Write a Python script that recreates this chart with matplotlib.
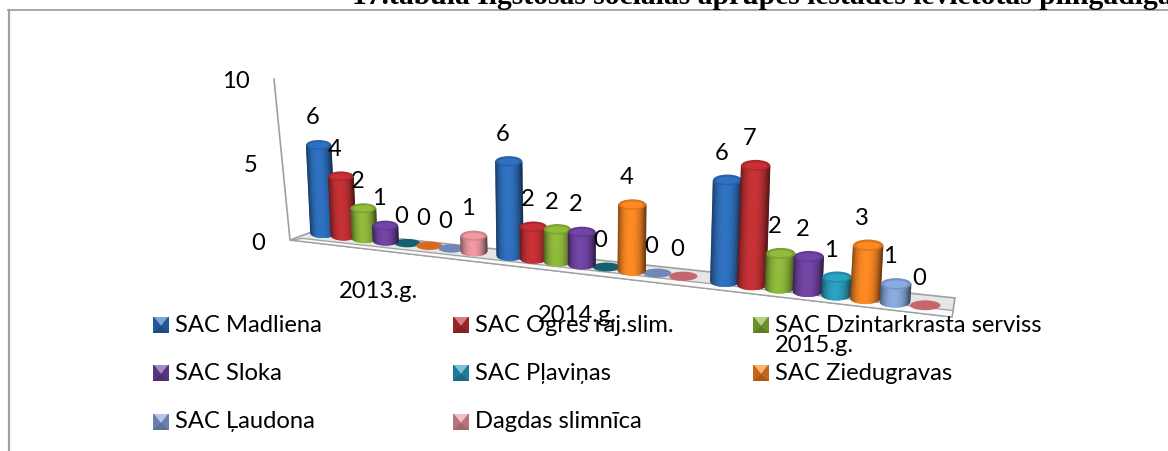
import numpy as np
import matplotlib
matplotlib.use("Agg")
import matplotlib.pyplot as plt
from matplotlib.collections import PolyCollection
from matplotlib.colors import to_rgb
from matplotlib.patches import Ellipse, Polygon, Rectangle

W, H = 1168, 451

years = ["2013.g.", "2014.g.", "2015.g."]
series_names = ["SAC Madliena", "SAC Ogres raj.slim.", "SAC Dzintarkrasta serviss", "SAC Sloka",
                "SAC Pļaviņas", "SAC Ziedugravas", "SAC Ļaudona", "Dagdas slimnīca"]
madliena = [6, 6, 6]
ogres = [4, 2, 7]
dzintarkrasta = [2, 2, 2]
sloka = [1, 2, 2]
plavinas = [0, 0, 1]
ziedugravas = [0, 4, 3]
laudona = [0, 0, 1]
dagdas = [1, 0, 0]
all_series = [madliena, ogres, dzintarkrasta, sloka, plavinas, ziedugravas, laudona, dagdas]
colors = ["#2a69b4", "#b92c30", "#86ae36", "#6a3f9b", "#2596b6", "#ee7f1e", "#7f9fd2", "#df8f96"]
flat_colors = ["#2a69b4", "#b92c30", "#86ae36", "#6a3f9b", "#14606f", "#d9691c", "#7088b8", "#c4666c"]
value_ticks = [0, 5, 10]
title = "17.tabula Ilgstošas sociālās aprūpes iestādēs ievietotās pilngadīgās personas"

# fake 3d projection, fitted to the picture
X0, Y0 = 323, 233
SLOPE = 0.12
GROUP_STEP = 8 + 0.56
PERSP = 0.0075
UNIT_X = 20.45
UNIT_Y = 14.7
BAR_W = 25
CAP_H = 9.5
LEAN = 0.00019


def project(t, v=0.0):
    scale = 1 / (1 - PERSP * t)
    base_x = X0 + UNIT_X * t * scale
    base_y = Y0 + SLOPE * (base_x - X0)
    h = v * UNIT_Y * scale
    return base_x - LEAN * (583 - base_x) * h, base_y - h, scale


def shade(color, u):
    rgb = np.array(to_rgb(color))
    k = 1.08 - 0.55 * np.abs(u) ** 2.6
    k = k - 0.12 * (u > 0) * u
    return tuple(np.clip(rgb * k, 0, 1))


def cylinder(ax, t, v, color, zorder):
    bx, by, s = project(t)
    tx, ty, _ = project(t, v)
    w, cap = BAR_W * s, CAP_H * s
    us = np.linspace(-1, 1, 41)
    polys, cols = [], []
    for u0, u1 in zip(us[:-1], us[1:]):
        b0 = by + np.sqrt(1 - u0 ** 2) * cap / 2
        b1 = by + np.sqrt(1 - u1 ** 2) * cap / 2
        polys.append([(bx + u0 * w / 2, b0), (bx + u1 * w / 2, b1), (tx + u1 * w / 2, ty), (tx + u0 * w / 2, ty)])
        cols.append(shade(color, (u0 + u1) / 2))
    ax.add_collection(PolyCollection(polys, facecolors=cols, edgecolors=cols, linewidths=0.4, zorder=zorder))
    rgb = np.array(to_rgb(color))
    ax.add_patch(Ellipse((tx, ty), w, cap, facecolor=rgb * 0.92, edgecolor="none", zorder=zorder))
    ax.add_patch(Ellipse((tx, ty + 0.3), w * 0.78, cap * 0.66, facecolor=np.clip(rgb * 1.08, 0, 1),
                         edgecolor="none", zorder=zorder))


def legend_marker(ax, x, y, color):
    rgb = np.array(to_rgb(color))
    size = 16
    ax.add_patch(Rectangle((x, y), size, size, facecolor=rgb * 0.82, edgecolor="none", zorder=6))
    ax.add_patch(Polygon([(x, y + size), (x + size, y + size), (x + size / 2, y + size * 0.55)],
                         facecolor=rgb * 0.72, edgecolor="none", zorder=7))
    ax.add_patch(Polygon([(x + 1, y), (x + size - 1, y), (x + size / 2, y + size * 0.55)],
                         facecolor=np.clip(rgb * 0.65 + 0.38, 0, 1), edgecolor="none", zorder=7))


plt.rcParams["font.family"] = ["Lato", "DejaVu Sans"]
fig = plt.figure(figsize=(W / 100, H / 100), dpi=100)
ax = fig.add_axes([0, 0, 1, 1])
ax.set_xlim(0, W)
ax.set_ylim(H, 0)
ax.axis("off")

# frame of the embedded chart
ax.plot([8, W], [9.5, 9.5], color="#9a9a9a", lw=1.2, zorder=1)
ax.plot([8.5, 8.5], [9.5, H], color="#a0a0a0", lw=1.6, zorder=1)
ax.text(352, 4, title, family="Liberation Serif", fontweight="bold", fontsize=21.3, ha="left", va="baseline",
        clip_on=True, zorder=2)

# floor and wall
ax.add_patch(Polygon([(290, 240), (317, 230), (955, 298), (952, 317)], facecolor="#e6e6e6",
                     edgecolor="#a0a0a0", lw=1.2, zorder=1))
ax.add_patch(Polygon([(290, 240), (303, 238.5), (953, 310.5), (952, 317)], facecolor="#fbfbfb",
                     edgecolor="#a0a0a0", lw=0.9, zorder=1))
ax.plot([290, 274], [240, 79], color="#a0a0a0", lw=1.2, zorder=1)

for v, lx, ly in zip(value_ticks, [258, 251, 236], [243, 165, 81]):
    ax.text(lx, ly, str(v), fontsize=17.1, ha="center", va="center", zorder=3)

# category labels sit under the floor
for year, lx, ly in zip(years, [379, 577, 814], [292, 315, 346]):
    ax.text(lx, ly, year, fontsize=17.1, ha="center", va="center", zorder=8)

labels = []
for g in range(len(years)):
    for s, vals in enumerate(all_series):
        t = g * GROUP_STEP + s
        v = vals[g]
        tx, ty, sc = project(t, v)
        if v > 0:
            cylinder(ax, t, v, colors[s], 4 + 0.001 * (g * 8 + s))
        else:
            ax.add_patch(Ellipse((tx, ty), BAR_W * sc, CAP_H * sc * 0.85, facecolor=flat_colors[s],
                                 edgecolor="none", zorder=4))
        labels.append((tx - 6, ty - 27, str(v)))
for lx, ly, txt in labels:
    ax.text(lx, ly, txt, fontsize=17.1, ha="center", va="center", zorder=9)

# legend, three columns
col_x = [153, 453, 753]
row_y = [317, 365, 414]
for i, name in enumerate(series_names):
    mx, my = col_x[i % 3], row_y[i // 3]
    legend_marker(ax, mx, my, colors[i])
    ax.text(mx + 22, my + 8, name, fontsize=17.1, ha="left", va="center", zorder=8)

fig.savefig("out.png", dpi=100)
